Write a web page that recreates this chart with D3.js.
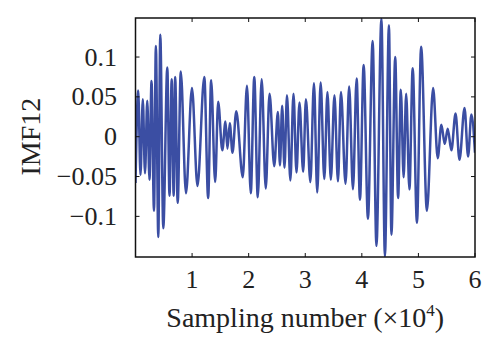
<!DOCTYPE html>
<html>
<head>
<meta charset="utf-8">
<script src="https://cdn.jsdelivr.net/npm/d3@7"></script>
<style>
  body { margin: 0; background: #fff; }
  svg text { font-family: "Liberation Serif", "DejaVu Serif", serif; fill: #222; }
</style>
</head>
<body>
<svg id="chart"></svg>
<script>
// extrema of IMF12 (sample number, amplitude)
const sampleIdx = [
  0, 480, 880, 1290, 1680, 2080, 2470, 2830, 3270, 3600,
  4030, 4380, 4910, 5620, 6010, 6400, 6750, 7010, 7460, 8000,
  8920, 9980, 10950, 12160, 12840, 13370, 14080, 14610, 15340, 15900,
  16250, 16660, 17140, 17810, 18960, 19700, 20370, 20990, 21610, 22300,
  23020, 23690, 24520, 25160, 25530, 25920, 26330, 26770, 27370, 27920,
  28450, 28980, 29630, 30120, 30900, 31540, 32120, 32720, 33370, 33920,
  34520, 35160, 35780, 36310, 37120, 37760, 38430, 39080, 39670, 40320,
  41080, 41910, 42580, 43460, 44080, 44790, 45230, 45900, 46410, 46890,
  47390, 47830, 48410, 48990, 49740, 50480, 51500, 52600, 53410, 54060,
  54650, 55180, 55830, 56560, 57260, 58150, 58780, 59360, 60000
];
const imf12 = [
  -0.058, 0.058, -0.048, 0.047, -0.046, 0.045, -0.054, 0.070, -0.093, 0.114,
  -0.126, 0.128, -0.115, 0.087, -0.074, 0.072, -0.074, 0.075, -0.083, 0.082,
  -0.071, 0.061, -0.062, 0.075, -0.077, 0.071, -0.057, 0.044, -0.017, 0.019,
  -0.015, 0.017, -0.020, 0.032, -0.051, 0.064, -0.071, 0.075, -0.076, 0.072,
  -0.065, 0.054, -0.037, 0.031, -0.036, 0.039, -0.039, 0.052, -0.055, 0.054,
  -0.045, 0.043, -0.044, 0.047, -0.057, 0.067, -0.070, 0.068, -0.053, 0.056,
  -0.054, 0.052, -0.056, 0.056, -0.059, 0.063, -0.066, 0.073, -0.079, 0.090,
  -0.103, 0.120, -0.137, 0.148, -0.150, 0.140, -0.123, 0.100, -0.077, 0.059,
  -0.051, 0.054, -0.066, 0.086, -0.108, 0.113, -0.093, 0.061, -0.027, 0.015,
  -0.009, 0.010, -0.017, 0.029, -0.029, 0.036, -0.025, 0.028, -0.020
];
const xTicks = [10000, 20000, 30000, 40000, 50000, 60000];
const xTickLabels = ["1", "2", "3", "4", "5", "6"];
const yTicks = [-0.1, -0.05, 0, 0.05, 0.1];
const yTickLabels = ["\u22120.1", "\u22120.05", "0", "0.05", "0.1"];

const svgW = 500, svgH = 354;
const margin = { top: 18, right: 25, bottom: 97, left: 135.5 };
const width = svgW - margin.left - margin.right;
const height = svgH - margin.top - margin.bottom;

const root = d3.select("#chart").attr("width", svgW).attr("height", svgH);
const svg = root.append("g").attr("transform", `translate(${margin.left},${margin.top})`);

const x = d3.scaleLinear().domain([0, 60000]).range([0, width]);
const y = d3.scaleLinear().domain([-0.151, 0.149]).range([height, 0]);

svg.append("clipPath").attr("id", "clip")
  .append("rect").attr("width", width).attr("height", height);

const pts = sampleIdx.map((s, i) => [s, imf12[i]]);
const line = d3.line()
  .x(d => x(d[0]))
  .y(d => y(d[1]))
  .curve(d3.curveMonotoneX);

svg.append("path")
  .datum(pts)
  .attr("clip-path", "url(#clip)")
  .attr("fill", "none")
  .attr("stroke", "#3b4ea3")
  .attr("stroke-width", 2.5)
  .attr("stroke-linejoin", "round")
  .attr("d", line);

// inward ticks on all four sides (matlab box)
const tk = 4;
const ax = svg.append("g").attr("stroke", "#111").attr("stroke-width", 1);
xTicks.forEach(t => {
  ax.append("line").attr("x1", x(t)).attr("x2", x(t)).attr("y1", height).attr("y2", height - tk);
  ax.append("line").attr("x1", x(t)).attr("x2", x(t)).attr("y1", 0).attr("y2", tk);
});
yTicks.forEach(t => {
  ax.append("line").attr("x1", 0).attr("x2", tk).attr("y1", y(t)).attr("y2", y(t));
  ax.append("line").attr("x1", width).attr("x2", width - tk).attr("y1", y(t)).attr("y2", y(t));
});

svg.append("rect")
  .attr("width", width).attr("height", height)
  .attr("fill", "none").attr("stroke", "#111").attr("stroke-width", 1.5);

// tick labels
svg.selectAll("text.xt")
  .data(xTicks)
  .enter().append("text")
  .attr("class", "xt")
  .attr("x", d => x(d))
  .attr("y", height + 31)
  .attr("text-anchor", "middle")
  .style("font-size", "26px")
  .text((d, i) => xTickLabels[i]);

svg.selectAll("text.yt")
  .data(yTicks)
  .enter().append("text")
  .attr("class", "yt")
  .attr("x", -18.5)
  .attr("y", d => y(d))
  .attr("dy", "0.33em")
  .attr("text-anchor", "end")
  .style("font-size", "26px")
  .text((d, i) => yTickLabels[i]);

// axis titles
const xl = svg.append("text")
  .attr("x", width / 2)
  .attr("y", height + 70)
  .attr("text-anchor", "middle")
  .style("font-size", "28px")
  .text("Sampling number (\u00d710");
xl.append("tspan").attr("dy", -11).style("font-size", "17px").text("4");
xl.append("tspan").attr("dy", 11).text(")");

svg.append("text")
  .attr("transform", `translate(-95.5,${y(0)}) rotate(-90)`)
  .attr("text-anchor", "middle")
  .style("font-size", "28px")
  .text("IMF12");
</script>
</body>
</html>
